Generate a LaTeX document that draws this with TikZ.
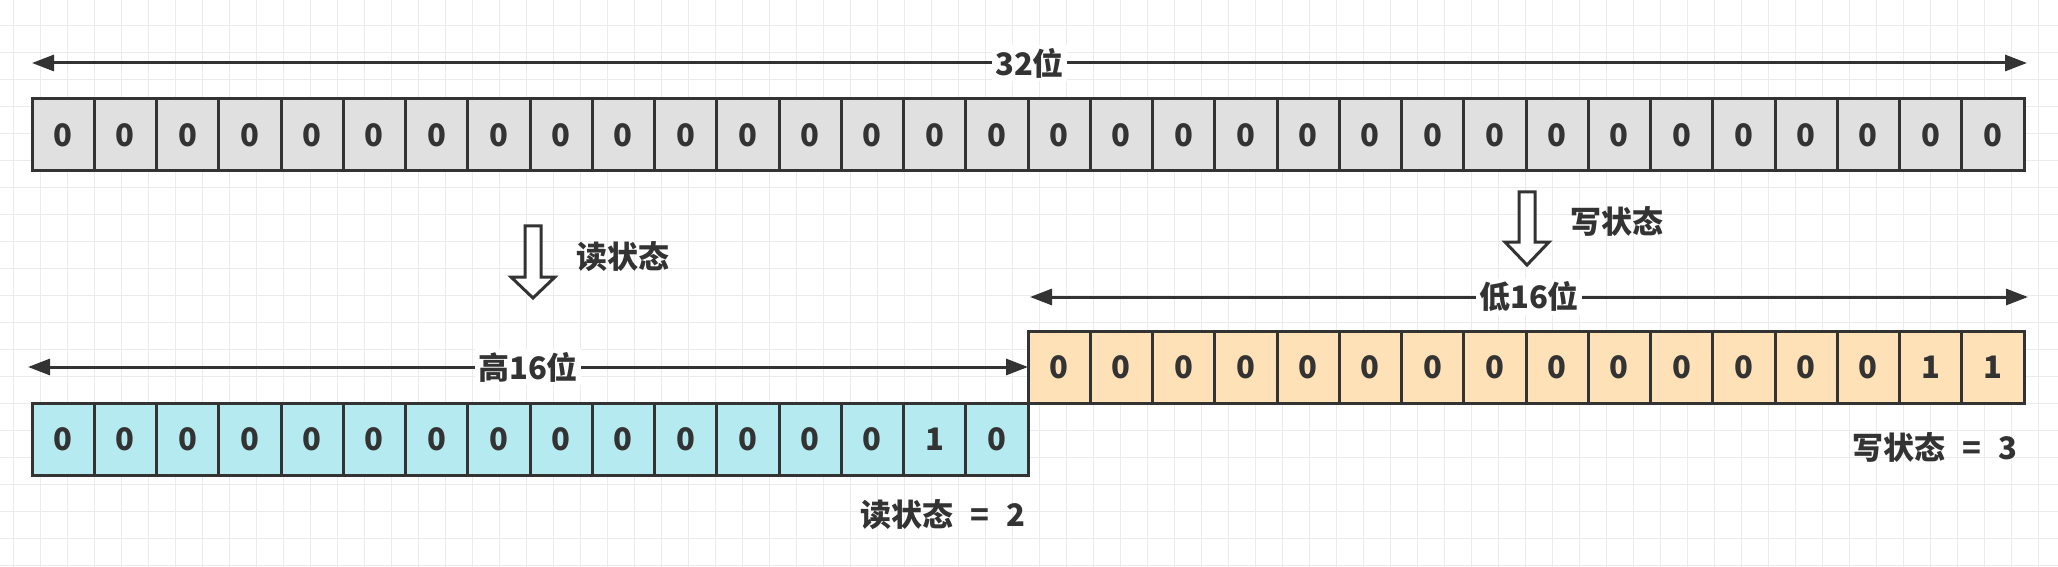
\documentclass[tikz,border=0pt]{standalone}
\usepackage{fontspec}
\setmainfont{Noto Sans CJK SC}
\usetikzlibrary{arrows.meta}
\definecolor{ink}{HTML}{333333}
\definecolor{gridc}{HTML}{EBEBEB}
\definecolor{cgray}{HTML}{E0E0E0}
\definecolor{cblue}{HTML}{B5EBF0}
\definecolor{corange}{HTML}{FFE1B8}
\newcommand{\lblfont}{\fontsize{15.5}{18}\selectfont\bfseries}
\begin{document}
\begin{tikzpicture}[x=0.5pt,y=-0.5pt,
  cell/.style={draw=ink, line width=1.5pt, minimum width=31.125pt, minimum height=36pt,
    inner sep=0pt, outer sep=0pt, anchor=north west, font=\lblfont, text=ink},
  dim/.style={draw=ink, line width=1.5pt,
    {Triangle[length=11pt,width=8pt]}-{Triangle[length=11pt,width=8pt]}},
  lbl/.style={fill=white, inner sep=1.5pt, font=\lblfont, text=ink},
  txt/.style={inner sep=0pt, font=\lblfont, text=ink},
  hollow/.style={draw=ink, line width=1.5pt, fill=white, line join=miter}
]
\fill[white] (0,0) rectangle (2058,567);
\useasboundingbox (0,0) rectangle (2058,567);
% grid
\foreach \i in {0,...,75} \draw[gridc, line width=0.6pt] ({13.3+27*\i},0) -- ({13.3+27*\i},567);
\foreach \j in {0,...,20} \draw[gridc, line width=0.6pt] (0,{25.3+27*\j}) -- (2058,{25.3+27*\j});

% top 32-bit row
\foreach \i in {1,...,32}
  \node[cell, fill=cgray] (t\i) at ({32+62.25*(\i-1)},99) {0};
% high 16 bits (blue)
\foreach \v [count=\i] in {0,0,0,0,0,0,0,0,0,0,0,0,0,0,1,0}
  \node[cell, fill=cblue] (b\i) at ({32+62.25*(\i-1)},403) {\v};
% low 16 bits (orange)
\foreach \v [count=\i] in {0,0,0,0,0,0,0,0,0,0,0,0,0,0,1,1}
  \node[cell, fill=corange] (o\i) at ({1028+62.25*(\i-1)},331) {\v};

% dimension arrows
\coordinate (a1) at (32,63);
\coordinate (a2) at (2027,63);
\draw[dim] (a1) -- node[lbl] (l32) {32位} (a2);
\coordinate (h1) at (28,367);
\coordinate (h2) at (1028,367);
\draw[dim] (h1) -- node[lbl] (lhi) {高16位} (h2);
\coordinate (w1) at (1030,297);
\coordinate (w2) at (2028,297);
\draw[dim] (w1) -- node[lbl] (llo) {低16位} (w2);

% hollow arrows
\draw[hollow] (525,226) -- (541,226) -- (541,277) -- (555,277) -- (533,298) -- (511,277) -- (525,277) -- cycle;
\draw[hollow] (1519,192) -- (1535,192) -- (1535,242) -- (1549,242) -- (1527,265) -- (1505,242) -- (1519,242) -- cycle;

\node[txt] (rs) at (623,257) {读状态};
\node[txt] (ws) at (1617,222) {写状态};
\node[txt, anchor=east] (rv) at (1026,515) {读状态\hspace{0.55em}=\hspace{0.55em}2};
\node[txt, anchor=east] (wv) at (2018,448) {写状态\hspace{0.55em}=\hspace{0.55em}3};
\end{tikzpicture}
\end{document}
